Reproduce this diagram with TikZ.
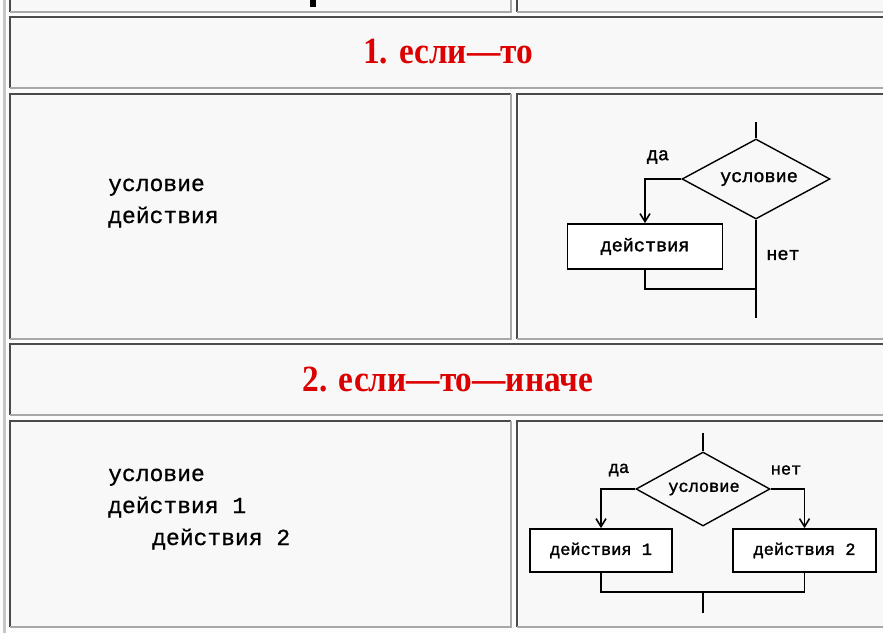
\documentclass[tikz,border=0pt]{standalone}
\usepackage{fontspec}
\setmainfont{Liberation Serif}
\newfontfamily\monof[FakeBold=0.8]{Liberation Mono}
\newfontfamily\fcfont[FakeBold=1.6]{Liberation Mono}
\newfontfamily\titlef[FakeStretch=0.9]{Liberation Serif Bold}
\usetikzlibrary{shapes.geometric,arrows.meta}
\definecolor{bgc}{HTML}{FCFCFC}
\definecolor{cellc}{HTML}{F8F8F8}
\definecolor{darkb}{HTML}{4A4A4A}
\definecolor{lightb}{HTML}{A8A8A8}
\definecolor{outerb}{HTML}{C6C6C6}
\definecolor{titlered}{HTML}{DD0000}
\newcommand\mycell[4]{%
  \fill[cellc] (#1,#2) rectangle (#3,#4);
  \draw[darkb,line width=2.2pt] (#1,#4) -- (#1,#2) -- (#3,#2);
  \draw[lightb,line width=2.2pt] (#1,#4) -- (#3,#4) -- (#3,#2);
}
\tikzset{
  titletext/.style={font=\titlef\fontsize{37}{40}\selectfont, text=titlered, inner sep=0pt},
  codetext/.style={font=\monof\fontsize{23}{26}\selectfont, anchor=base west, inner sep=0pt},
  fcbox/.style={draw=black, line width=1.8pt, fill=white, inner sep=0pt},
  fcdia/.style={diamond, draw=black, line width=1.4pt, inner sep=0pt, fill=cellc},
  fctext/.style={font=\fcfont\fontsize{18.5}{20}\selectfont, inner sep=0pt},
  fctextb/.style={font=\fcfont\fontsize{17}{19}\selectfont, inner sep=0pt},
  fcthick/.style={line width=2.6pt},
  fcmid/.style={line width=1.8pt},
  fcthin/.style={line width=1.4pt},
  fcarrow/.style={-{Straight Barb[length=8pt,width=10pt,line width=1.6pt]}},
}
\begin{document}
\begin{tikzpicture}[x=1pt,y=-1pt]
\useasboundingbox (0,0) rectangle (883,632);
\clip (0,0) rectangle (883,632);
\fill[bgc] (0,0) rectangle (883,632);
% outer table edge
\draw[outerb,line width=3pt] (4.5,-5) -- (4.5,640);
% row 0 (cut)
\mycell{10}{-10}{511}{12}
\mycell{517}{-10}{895}{12}
\fill[black] (310,0) rectangle (316,7);
% row 1 title
\mycell{10}{17}{895}{88}
\node[titletext] (title1) at (448,52) {1. если—то};
% row 2
\mycell{10}{94}{511}{339}
\mycell{517}{94}{895}{339}
\node[codetext] (c1a) at (108,191) {условие};
\node[codetext] (c1b) at (108,223) {действия};
% flowchart 1
\coordinate (t1) at (756,122);
\node[fcdia, minimum width=148pt, minimum height=80pt] (d1) at (756,179) {};
\node[fctext] (d1t) at (759,179) {условие};
\node[fcbox, minimum width=155pt, minimum height=45pt, font=\fcfont\fontsize{18.5}{20}\selectfont] (b1) at (645,246.5) {действия};
\coordinate (j1) at (756,289);
\coordinate (e1) at (756,318);
\draw[fcthick] (t1) -- (d1.north);
\draw[fcthick,fcarrow] (d1.west) -| (b1.north);
\draw[fcthick] (b1.south) |- (j1);
\draw[fcthin] (d1.south) -- (e1);
\node[fctext] (l1y) at (658,157) {да};
\node[fctext] (l1n) at (783,255) {нет};
% row 3 title
\mycell{10}{344}{895}{415}
\node[titletext] (title2) at (448,380) {2. если—то—иначе};
% row 4
\mycell{10}{421}{511}{627}
\mycell{517}{421}{895}{627}
\node[codetext] (c2a) at (108,481) {условие};
\node[codetext] (c2b) at (108,513) {действия 1};
\node[codetext] (c2c) at (152,545) {действия 2};
% flowchart 2
\coordinate (t2) at (703,433);
\node[fcdia, minimum width=134pt, minimum height=74pt] (d2) at (703,489) {};
\node[fctextb] (d2t) at (704,489) {условие};
\node[fcbox, minimum width=142pt, minimum height=43pt, font=\fcfont\fontsize{17}{19}\selectfont] (b21) at (601,550.5) {действия 1};
\node[fcbox, minimum width=143pt, minimum height=43pt, font=\fcfont\fontsize{17}{19}\selectfont] (b22) at (804.5,550.5) {действия 2};
\coordinate (j2) at (703,592);
\coordinate (e2) at (703,613);
\draw[fcmid] (t2) -- (d2.north);
\draw[fcmid,fcarrow] (d2.west) -| (b21.north);
\draw[fcmid,fcarrow] (d2.east) -| (b22.north);
\draw[fcmid] (b21.south) |- (j2) -| (b22.south);
\draw[fcthick] (j2) -- (e2);
\node[fctextb] (l2y) at (619,470) {да};
\node[fctextb] (l2n) at (786,470) {нет};
\end{tikzpicture}
\end{document}
